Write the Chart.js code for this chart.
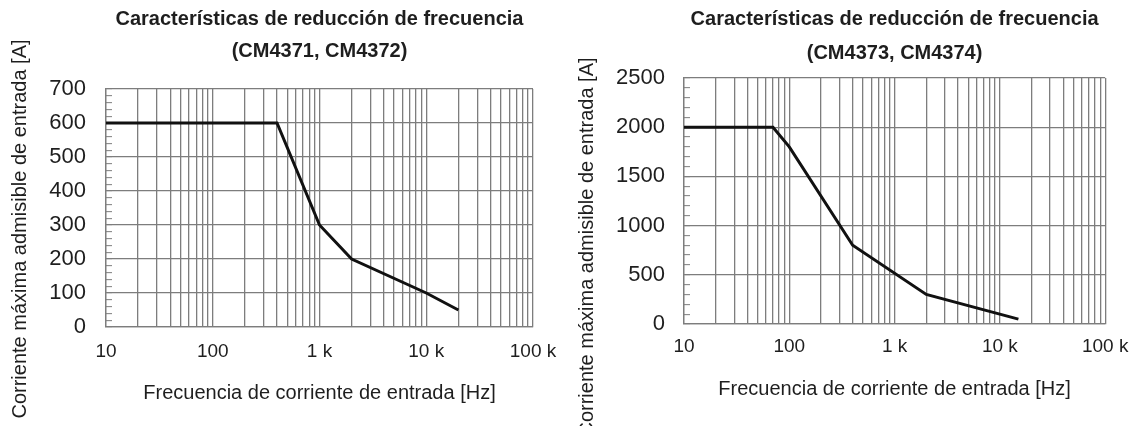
<!DOCTYPE html>
<html>
<head>
<meta charset="utf-8">
<title>Características de reducción de frecuencia</title>
<script src="https://cdn.jsdelivr.net/npm/chart.js@4.4.1/dist/chart.umd.min.js"></script>
<style>
  body { margin: 0; background: #fff; }
  canvas { position: absolute; top: 0; }
  #left { left: 0; }
  #right { left: 575px; }
</style>
</head>
<body>
<canvas id="left" width="575" height="426"></canvas>
<canvas id="right" width="565" height="426"></canvas>
<script>
// derating curves
const freqA = [10, 400, 1000, 2000, 10000, 20000];
const currentA = [600, 600, 300, 200, 100, 50];

const freqB = [10, 70, 100, 400, 2000, 15000];
const currentB = [2000, 2000, 1800, 800, 300, 50];

const xTickValues = [10, 100, 1000, 10000, 100000];
const xTickLabels = ["10", "100", "1 k", "10 k", "100 k"];

const titleLine = "Características de reducción de frecuencia";
const xTitle = "Frecuencia de corriente de entrada [Hz]";
const yTitle = "Corriente máxima admisible de entrada [A]";

const gridColor = "#7d7d7d";
const textColor = "#1e1e1e";
const family = "'Liberation Sans', Arial, sans-serif";

// log grid: 1..9 in every decade
const xGrid = [];
xTickValues.slice(0, -1).forEach(d => {
  for (let m = 1; m < 10; m++) xGrid.push(d * m);
});
xGrid.push(xTickValues[xTickValues.length - 1]);

// the y title sits lower than the plot centre in the original, so draw it by hand
const sideTitle = {
  id: "sideTitle",
  afterDraw(chart, args, opts) {
    const ctx = chart.ctx;
    ctx.save();
    ctx.translate(opts.x, opts.y);
    ctx.rotate(-Math.PI / 2);
    ctx.font = "20px " + family;
    ctx.fillStyle = textColor;
    ctx.textAlign = "center";
    ctx.textBaseline = "middle";
    ctx.fillText(opts.text, 0, 0);
    ctx.restore();
  }
};

function makeChart(id, freq, current, c) {
  return new Chart(document.getElementById(id), {
    type: "line",
    data: {
      datasets: [{
        data: freq.map((f, i) => ({ x: f, y: current[i] })),
        borderColor: "#111",
        borderWidth: 3,
        pointRadius: 0,
        tension: 0
      }]
    },
    options: {
      responsive: false,
      animation: false,
      layout: { padding: { left: 0, right: c.padRight, top: 0, bottom: 0 } },
      plugins: {
        legend: { display: false },
        tooltip: { enabled: false },
        title: {
          display: true,
          fullSize: false,
          text: [titleLine, c.models],
          color: textColor,
          font: { size: 20, weight: "bold", family: family, lineHeight: c.titleLH },
          padding: { top: c.titleTop, bottom: c.titleBottom }
        },
        sideTitle: { text: yTitle, x: c.yTitleX, y: c.yTitleY }
      },
      scales: {
        x: {
          type: "logarithmic",
          min: 10,
          max: 100000,
          afterBuildTicks: s => { s.ticks = xGrid.map(v => ({ value: v })); },
          ticks: {
            autoSkip: false,
            maxRotation: 0,
            minRotation: 0,
            padding: c.xPad,
            color: textColor,
            font: { size: 19, family: family },
            callback: v => {
              const i = xTickValues.indexOf(v);
              return i < 0 ? "" : xTickLabels[i];
            }
          },
          grid: { color: gridColor, lineWidth: 1.3, drawTicks: false },
          border: { color: gridColor, width: 1.3 },
          title: {
            display: true,
            text: xTitle,
            color: textColor,
            font: { size: 20, family: family },
            padding: { top: 0, bottom: c.xTitleBottom }
          },
          afterFit: s => { s.height = c.xHeight; }
        },
        y: {
          min: 0,
          max: c.yMax,
          ticks: {
            stepSize: c.minorStep,
            autoSkip: false,
            padding: c.yPad,
            color: textColor,
            font: { size: 22, family: family },
            callback: v => (v % c.majorStep === 0 ? v : "")
          },
          grid: {
            color: ctx => (ctx.tick && ctx.tick.value % c.majorStep === 0 ? gridColor : "transparent"),
            lineWidth: 1.3,
            tickColor: gridColor,
            tickWidth: 1,
            drawTicks: true,
            tickLength: -6
          },
          border: { color: gridColor, width: 1.3 },
          afterFit: s => { s.width = c.yWidth; }
        }
      }
    },
    plugins: [sideTitle]
  });
}

makeChart("left", freqA, currentA, {
  models: "(CM4371, CM4372)",
  yMax: 700, minorStep: 20, majorStep: 100,
  yWidth: 106, yPad: 26, padRight: 42,
  titleLH: 1.6, titleTop: 3.6, titleBottom: 21.4,
  xHeight: 99, xPad: 13.6, xTitleBottom: 21,
  yTitleX: 20, yTitleY: 229
});

makeChart("right", freqB, currentB, {
  models: "(CM4373, CM4374)",
  yMax: 2500, minorStep: 100, majorStep: 500,
  yWidth: 109, yPad: 25, padRight: 27,
  titleLH: 1.7, titleTop: 2.6, titleBottom: 7.4,
  xHeight: 102, xPad: 11.6, xTitleBottom: 25,
  yTitleX: 12, yTitleY: 247
});
</script>
</body>
</html>
